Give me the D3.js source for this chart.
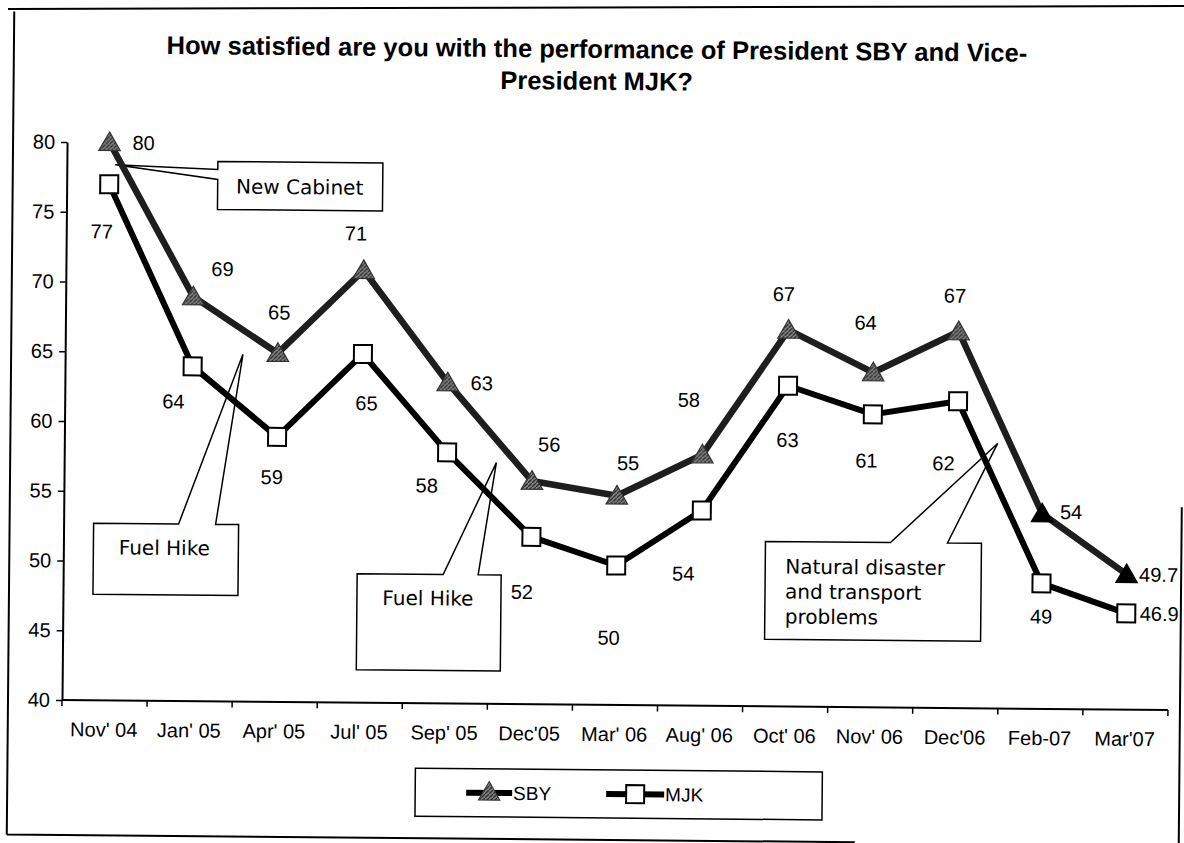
<!DOCTYPE html>
<html>
<head>
<meta charset="utf-8">
<script src="https://cdn.jsdelivr.net/npm/d3@7"></script>
<style>
  body { margin: 0; background: #fff; }
</style>
</head>
<body>
<div id="chart"></div>
<script>
// data
const categories = ["Nov' 04", "Jan' 05", "Apr' 05", "Jul' 05", "Sep' 05", "Dec'05", "Mar' 06",
                    "Aug' 06", "Oct' 06", "Nov' 06", "Dec'06", "Feb-07", "Mar'07"];
const sbyValues = [80, 69, 65, 71, 63, 56, 55, 58, 67, 64, 67, 54, 49.7];
const mjkValues = [77, 64, 59, 65, 58, 52, 50, 54, 63, 61, 62, 49, 46.9];
const yTicks = [40, 45, 50, 55, 60, 65, 70, 75, 80];
const seriesNames = ["SBY", "MJK"];
const titleLines = ["How satisfied are you with the performance of President SBY and Vice-",
                    "President MJK?"];

// callouts: text + where the wedge points, as (category index, value)
const callouts = [
    { lines: ["New Cabinet"], at: [0.07, 78.4] },
    { lines: ["Fuel Hike"], at: [1.59, 64.9] },
    { lines: ["Fuel Hike"], at: [4.58, 57.3] },
    { lines: ["Natural disaster", "and transport", "problems"], at: [10.47, 59.0] }
];

const width = 1184, height = 843;
const axisFont = "'Liberation Sans', Arial, sans-serif";
const noteFont = "'DejaVu Sans', Verdana, sans-serif";

const svg = d3.select("#chart")
    .append("svg")
    .attr("width", width)
    .attr("height", height);

// top edge of the page frame
svg.append("line")
    .attr("x1", 8).attr("y1", 9).attr("x2", 1184).attr("y2", 6)
    .attr("stroke", "#000").attr("stroke-width", 2);

// the scanned page is turned a little clockwise
const x0 = 62, x1 = 1168, yBase = 700, yTop = 142;
const page = svg.append("g").attr("transform", `rotate(0.52,${x0},${yBase})`);

// rest of the frame
page.append("path")
    .attr("d", "M8,835 V12 M8,835 H856 M1180,497 V860")
    .attr("fill", "none")
    .attr("stroke", "#000")
    .attr("stroke-width", 2);

// title
page.append("g")
    .selectAll("text")
    .data(titleLines)
    .enter()
    .append("text")
    .attr("x", 591)
    .attr("y", (d, i) => 53 + i * 32)
    .attr("text-anchor", "middle")
    .attr("font-family", axisFont)
    .attr("font-weight", "bold")
    .attr("font-size", 25.5)
    .text(d => d);

const x = d3.scalePoint().domain(categories).range([x0, x1]).padding(0.5);
const y = d3.scaleLinear().domain([40, 80]).range([yBase, yTop]);
const step = x.step();
const xi = i => x(categories[0]) + i * step;

// y axis
const yAxis = page.append("g")
    .attr("transform", `translate(${x0},0)`)
    .call(d3.axisLeft(y).tickValues(yTicks).tickSize(6).tickSizeOuter(0).tickPadding(6));
yAxis.select(".domain").attr("stroke-width", 2);
yAxis.selectAll(".tick line").attr("stroke-width", 1.5);
yAxis.selectAll("text").attr("font-family", axisFont).attr("font-size", 20).attr("fill", "#000");

// x axis: labels under each category, ticks between them
const xAxis = page.append("g")
    .attr("transform", `translate(-1,${yBase})`)
    .call(d3.axisBottom(x).tickSize(0).tickPadding(22).tickSizeOuter(0));
xAxis.select(".domain").remove();
xAxis.selectAll("text").attr("font-family", axisFont).attr("font-size", 20).attr("fill", "#000");
page.append("line")
    .attr("x1", x0).attr("x2", x1)
    .attr("y1", yBase).attr("y2", yBase)
    .attr("stroke", "#000").attr("stroke-width", 2);
page.append("g")
    .selectAll("line")
    .data(d3.range(categories.length + 1))
    .enter()
    .append("line")
    .attr("x1", d => x0 + d * step).attr("x2", d => x0 + d * step)
    .attr("y1", yBase).attr("y2", yBase + 6)
    .attr("stroke", "#000").attr("stroke-width", 1.5);

// callout boxes (box corners in px, wedge pointing to the anchor)
const boxes = [
    { x0: 213, y0: 160, x1: 378, y1: 208, side: "left", w0: 168, w1: 178, tx: 295, ty: 192, anchor: "middle" },
    { x0: 92, y0: 523, x1: 237, y1: 594, side: "top", w0: 177, w1: 214, tx: 163, ty: 554, anchor: "middle" },
    { x0: 356, y0: 571, x1: 500, y1: 667, side: "top", w0: 442, w1: 477, tx: 427, ty: 602, anchor: "middle" },
    { x0: 764, y0: 535, x1: 980, y1: 633, side: "top", w0: 889, w1: 946, tx: 784, ty: 567, anchor: "start" }
];
const noteG = page.append("g");
callouts.forEach((c, k) => {
    const b = boxes[k];
    const ax = xi(c.at[0]), ay = y(c.at[1]);
    let d;
    if (b.side === "left") {
        d = `M${b.x0},${b.y0} H${b.x1} V${b.y1} H${b.x0} V${b.w1} L${ax},${ay} L${b.x0},${b.w0} Z`;
    } else {
        d = `M${b.x0},${b.y0} H${b.w0} L${ax},${ay} L${b.w1},${b.y0} H${b.x1} V${b.y1} H${b.x0} Z`;
    }
    noteG.append("path")
        .attr("d", d)
        .attr("fill", "#fff")
        .attr("stroke", "#000")
        .attr("stroke-width", 1.5);
    noteG.append("g")
        .selectAll("text")
        .data(c.lines)
        .enter()
        .append("text")
        .attr("x", b.tx)
        .attr("y", (d, i) => b.ty + i * 25)
        .attr("text-anchor", b.anchor)
        .attr("font-family", noteFont)
        .attr("font-size", 20)
        .text(d => d);
});

// lines
const line = d3.line().x((d, i) => x(categories[i])).y(d => y(d));
page.append("path")
    .datum(sbyValues)
    .attr("d", line)
    .attr("fill", "none")
    .attr("stroke", "#1e1e1e")
    .attr("stroke-width", 6.5)
    .attr("stroke-linejoin", "round");
page.append("path")
    .datum(mjkValues)
    .attr("d", line)
    .attr("fill", "none")
    .attr("stroke", "#000")
    .attr("stroke-width", 6)
    .attr("stroke-linejoin", "round");

// hatched grey fill for the triangles
const defs = svg.append("defs");
const pat = defs.append("pattern")
    .attr("id", "hatch")
    .attr("patternUnits", "userSpaceOnUse")
    .attr("width", 4).attr("height", 4);
pat.append("rect").attr("width", 4).attr("height", 4).attr("fill", "#8a8a8a");
pat.append("path").attr("d", "M0,4 L4,0").attr("stroke", "#222").attr("stroke-width", 1.3);

const tri = d3.symbol().type(d3.symbolTriangle).size(200);

// SBY markers
page.append("g")
    .selectAll("path")
    .data(sbyValues)
    .enter()
    .append("path")
    .attr("d", tri)
    .attr("transform", (d, i) => `translate(${x(categories[i])},${y(d) + 2})`)
    .attr("fill", (d, i) => i >= 11 ? "#000" : "url(#hatch)")
    .attr("stroke", (d, i) => i >= 11 ? "#000" : "#333")
    .attr("stroke-width", 1.2);

// MJK markers
page.append("g")
    .selectAll("rect")
    .data(mjkValues)
    .enter()
    .append("rect")
    .attr("x", (d, i) => x(categories[i]) - 9)
    .attr("y", d => y(d) - 9)
    .attr("width", 18).attr("height", 18)
    .attr("fill", "#fff")
    .attr("stroke", "#000")
    .attr("stroke-width", 2);

// data label offsets from each marker (text centre)
const sbyLabelOffsets = [[34, 0], [29, -28], [1, -41], [-8, -37], [34, 0], [17, -37], [11, -33],
                         [-14, -55], [-5, -36], [-8, -50], [-4, -36], [29, -2], [32, 0]];
const mjkLabelOffsets = [[-7, 47], [-19, 35], [-5, 40], [4, 49], [-20, 33], [-9, 55], [-7, 72],
                         [-18, 63], [0, 54], [-6, 46], [-14, 62], [0, 33], [33, 0]];

function drawLabels(values, offsets) {
    page.append("g")
        .selectAll("text")
        .data(values)
        .enter()
        .append("text")
        .attr("x", (d, i) => x(categories[i]) + offsets[i][0])
        .attr("y", (d, i) => y(d) + offsets[i][1])
        .attr("dy", "0.36em")
        .attr("text-anchor", "middle")
        .attr("font-family", axisFont)
        .attr("font-size", 20)
        .text(d => String(d));
}
drawLabels(sbyValues, sbyLabelOffsets);
drawLabels(mjkValues, mjkLabelOffsets);

// legend
const legend = page.append("g");
legend.append("rect")
    .attr("x", 416).attr("y", 765)
    .attr("width", 407).attr("height", 48)
    .attr("fill", "#fff")
    .attr("stroke", "#000")
    .attr("stroke-width", 1.5);
const legendItems = [
    { name: seriesNames[0], x0: 467, x1: 513, tx: 514 },
    { name: seriesNames[1], x0: 607, x1: 665, tx: 666 }
];
legendItems.forEach((it, k) => {
    const cy = 789, cx = (it.x0 + it.x1) / 2;
    legend.append("line")
        .attr("x1", it.x0).attr("x2", it.x1)
        .attr("y1", cy).attr("y2", cy)
        .attr("stroke", "#000").attr("stroke-width", 6);
    if (k === 0) {
        legend.append("path")
            .attr("d", tri)
            .attr("transform", `translate(${cx},${cy + 1})`)
            .attr("fill", "url(#hatch)")
            .attr("stroke", "#333");
    } else {
        legend.append("rect")
            .attr("x", cx - 9).attr("y", cy - 9)
            .attr("width", 18).attr("height", 18)
            .attr("fill", "#fff").attr("stroke", "#000").attr("stroke-width", 2);
    }
    legend.append("text")
        .attr("x", it.tx).attr("y", cy)
        .attr("dy", "0.36em")
        .attr("font-family", axisFont)
        .attr("font-size", 19)
        .text(it.name);
});
</script>
</body>
</html>
